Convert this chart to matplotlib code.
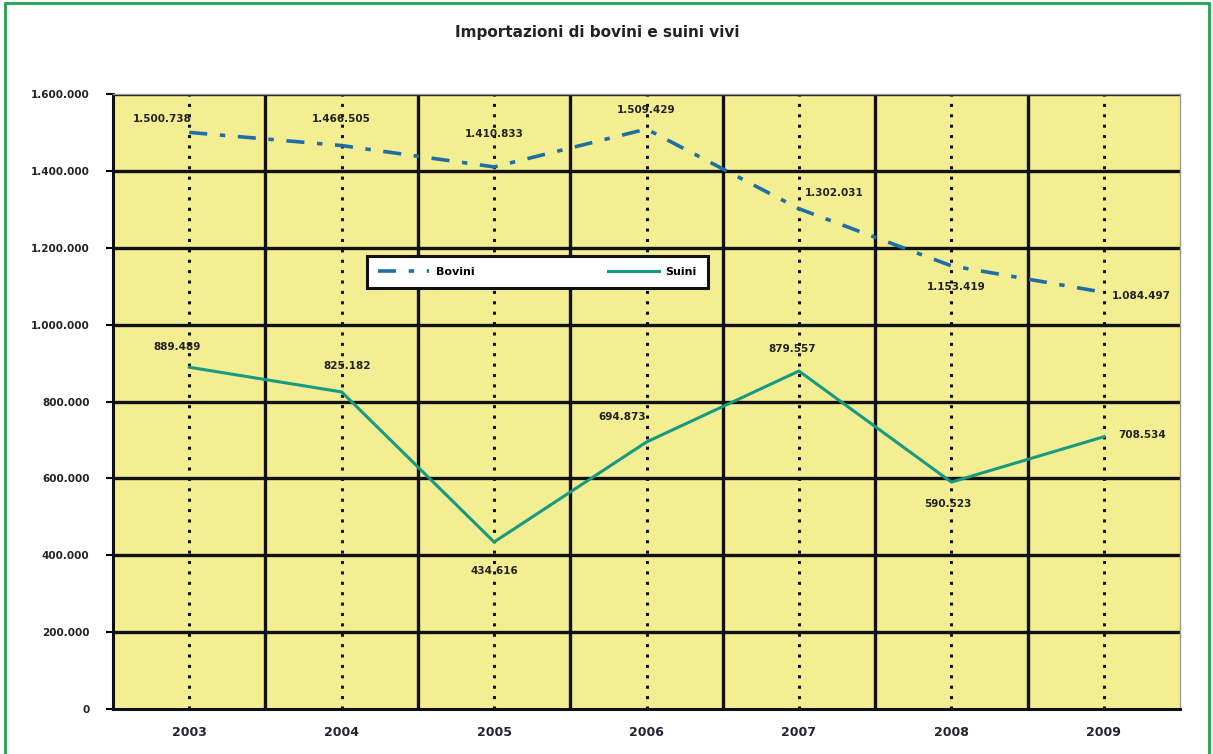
import matplotlib
matplotlib.use("Agg")
import matplotlib.pyplot as plt
from matplotlib.patches import Rectangle
import numpy as np

years = ["2003", "2004", "2005", "2006", "2007", "2008", "2009"]
bovini = [1500738, 1466505, 1410833, 1509429, 1302031, 1153419, 1084497]
suini = [889489, 825182, 434616, 694873, 879557, 590523, 708534]

# label offsets in pixels (dx, dy) relative to each point
bov_off = [(-27, 13), (0, 27), (0, 33), (0, 19), (35, 16), (5, -21), (38, -4)]
sui_off = [(-12, 20), (5, 26), (0, -29), (-24, 25), (-7, 22), (-3, -22), (38, 2)]


def fmt_it(v):
    return "{:,}".format(int(v)).replace(",", ".")


fig = plt.figure(figsize=(12.13, 7.54), dpi=100)
fig.patch.set_facecolor("white")
ax = fig.add_axes([0.0932, 0.0597, 0.8796, 0.8153])
ax.set_facecolor("#F4EE92")

x = np.arange(len(years))

# grid: solid lines between categories, dotted lines on categories
for b in np.arange(0.5, len(years) - 0.5, 1):
    ax.axvline(b, color="#111111", lw=2.4, zorder=1)
for xc in x:
    ax.axvline(xc, color="#111111", lw=2.2, ls=(0, (1.0, 2.4)), zorder=1)
for yv in range(200000, 1600001, 200000):
    ax.axhline(yv, color="#111111", lw=2.4, zorder=1)

ax.plot(x, bovini, color="#1D6FA5", lw=2.6, dashes=[5, 3.5, 1.5, 3.5],
        label="Bovini", zorder=3)
ax.plot(x, suini, color="#169A82", lw=2.2, label="Suini", zorder=3)

for xi, v, (dx, dy) in zip(x, bovini, bov_off):
    ax.annotate(fmt_it(v), (xi, v), xytext=(dx, dy), textcoords="offset pixels",
                ha="center", va="center", fontsize=7.5, fontweight="bold",
                color="#222222", zorder=4)
for xi, v, (dx, dy) in zip(x, suini, sui_off):
    ax.annotate(fmt_it(v), (xi, v), xytext=(dx, dy), textcoords="offset pixels",
                ha="center", va="center", fontsize=7.5, fontweight="bold",
                color="#222222", zorder=4)

ax.set_xlim(-0.5, len(years) - 0.5)
ax.set_ylim(0, 1600000)
ax.set_xticks(x)
ax.set_xticklabels(years, fontsize=9, fontweight="bold", color="#222233")
ax.set_yticks(range(0, 1600001, 200000))
ax.set_yticklabels([fmt_it(v) for v in range(0, 1600001, 200000)],
                   fontsize=7.5, fontweight="bold", color="#222222")
ax.tick_params(axis="x", length=0, pad=12)
ax.tick_params(axis="y", length=5, width=1.5, direction="out", pad=12)
for s in ax.spines.values():
    s.set_color("#111111")
    s.set_linewidth(2.2)
ax.spines["top"].set_color("#999999")
ax.spines["right"].set_color("#999999")
ax.spines["top"].set_linewidth(1)
ax.spines["right"].set_linewidth(1)

leg = ax.legend(loc="upper left", bbox_to_anchor=(0.238, 0.737), ncol=2,
                frameon=True, fancybox=False, handlelength=4.6,
                columnspacing=12, borderpad=1.0, handletextpad=0.6,
                borderaxespad=0, prop={"weight": "bold", "size": 8})
leg.get_frame().set_edgecolor("#111111")
leg.get_frame().set_linewidth(2.2)
leg.get_frame().set_facecolor("white")
leg.get_frame().set_alpha(1)
leg.set_zorder(5)

fig.text(0.492, 0.957, "Importazioni di bovini e suini vivi", ha="center",
         va="center", fontsize=11, fontweight="bold", color="#222222")

fig.patches.append(Rectangle((0.004, -0.01), 0.993, 1.006, transform=fig.transFigure,
                             fill=False, edgecolor="#1FA352", lw=2))

fig.savefig("out.png", dpi=100)
